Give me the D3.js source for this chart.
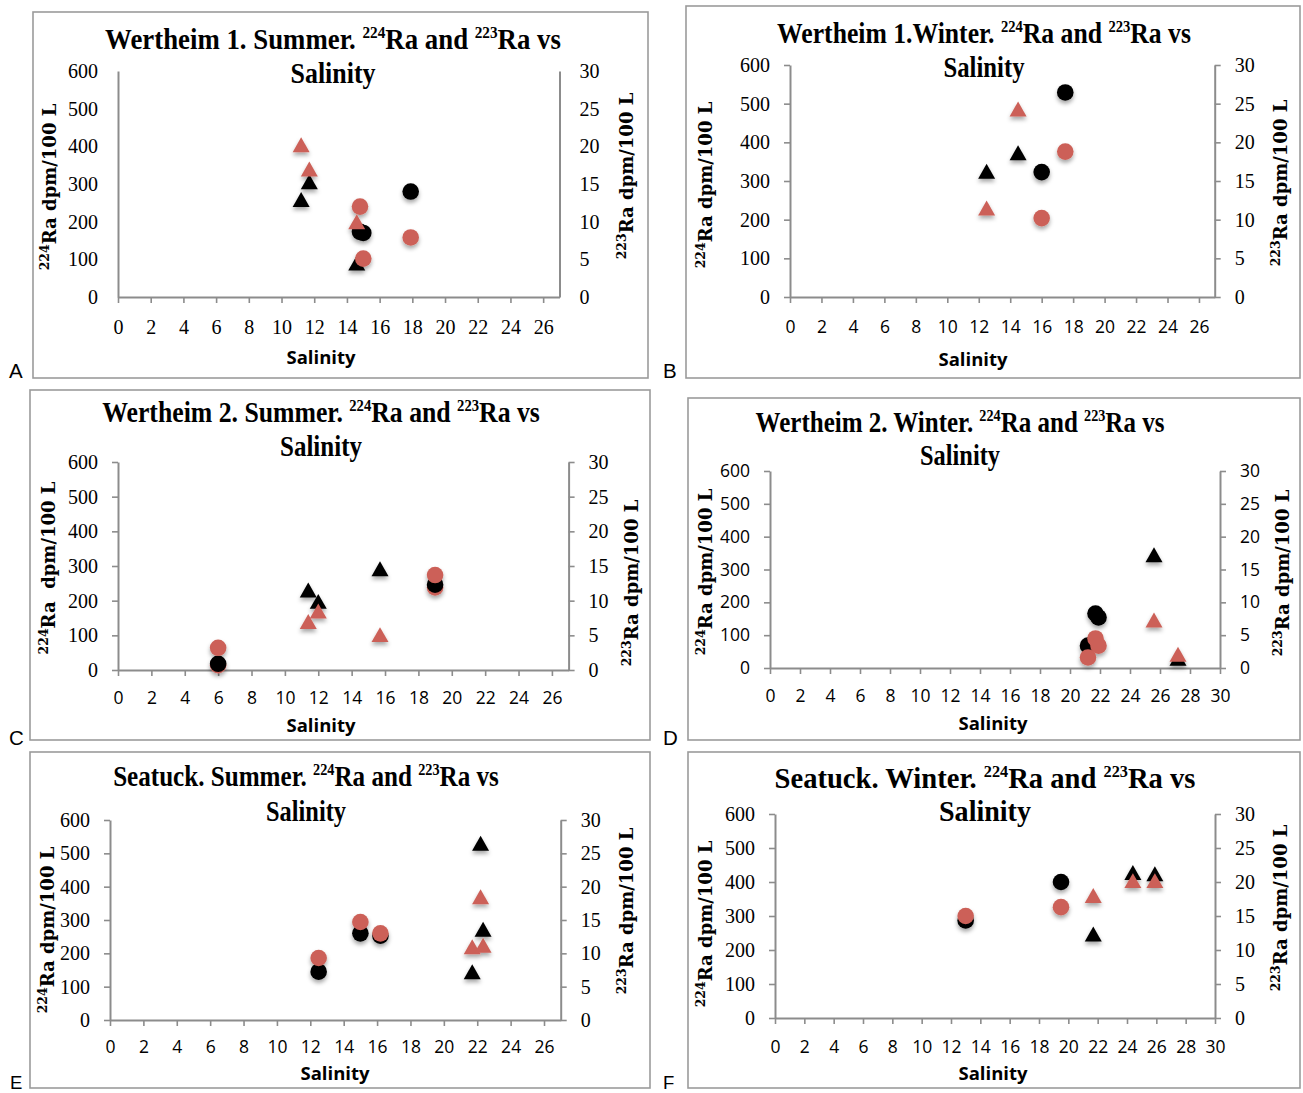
<!DOCTYPE html>
<html>
<head>
<meta charset="utf-8">
<script src="https://cdn.jsdelivr.net/npm/d3@7"></script>
<style>
  body { margin: 0; background: #fff; }
  svg { display: block; }
  text { white-space: pre; }
</style>
</head>
<body>
<svg id="fig" width="1303" height="1093"></svg>
<script>
// ---------------------------------------------------------------------------
// Data: salinity vs radium activity for three sites, summer and winter.
// Black marks = 224Ra (left axis, dpm/100 L); red marks = 223Ra (right axis).
// Circles and triangles are the two groups of stations sampled at each site.
// ---------------------------------------------------------------------------
const salinityTicks26 = [0, 2, 4, 6, 8, 10, 12, 14, 16, 18, 20, 22, 24, 26];
const salinityTicks30 = [0, 2, 4, 6, 8, 10, 12, 14, 16, 18, 20, 22, 24, 26, 28, 30];
const ra224Ticks = [0, 100, 200, 300, 400, 500, 600];
const ra223Ticks = [0, 5, 10, 15, 20, 25, 30];

const siteTitles = [
  "Wertheim 1. Summer.", "Wertheim 1.Winter.",
  "Wertheim 2. Summer.", "Wertheim 2. Winter.",
  "Seatuck. Summer.", "Seatuck. Winter."
];
const panelLetters = ["A", "B", "C", "D", "E", "F"];

// Wertheim 1, summer
const w1sCircleSal = [14.8, 15.0, 17.9];
const w1sCircleRa224 = [173, 170, 280];
const w1sCircleRa223 = [12.0, 5.1, 7.9];
const w1sTriSal = [11.2, 11.7, 14.6];
const w1sTriRa224 = [259, 306, 90];
const w1sTriRa223 = [20.2, 17.0, 10.0];

// Wertheim 1, winter
const w1wCircleSal = [16.0, 17.5];
const w1wCircleRa224 = [323, 529];
const w1wCircleRa223 = [10.2, 18.8];
const w1wTriSal = [12.5, 14.5];
const w1wTriRa224 = [325, 373];
const w1wTriRa223 = [11.5, 24.3];

// Wertheim 2, summer (replicate 223Ra samples at salinity 6 and 19)
const w2sRepSal = [6.0, 19.0];
const w2sRepRa223 = [0.7, 11.9];
const w2sCircleSal = [6.0, 19.0];
const w2sCircleRa224 = [18, 246];
const w2sCircleRa223 = [3.2, 13.7];
const w2sTriSal = [11.4, 12.0, 15.7];
const w2sTriRa224 = [231, 198, 292];
const w2sTriRa223 = [7.0, 8.5, 5.1];

// Wertheim 2, winter
const w2wCircleSal = [21.2, 21.7, 21.9];
const w2wCircleRa224 = [68, 166, 154];
const w2wCircleRa223 = [1.6, 4.5, 3.4];
const w2wTriSal = [25.6, 27.2];
const w2wTriRa224 = [345, 30];
const w2wTriRa223 = [7.3, 2.1];

// Seatuck, summer
const ssCircleSal = [12.5, 15.0, 16.2];
const ssCircleRa224 = [145, 260, 253];
const ssCircleRa223 = [9.3, 14.7, 13.0];
const ssTriSal = [21.7, 22.2, 22.35];
const ssTriRa224 = [145, 530, 272];
const ssTriRa223 = [11.0, 18.5, 11.2];

// Seatuck, winter
const swCircleSal = [13.0, 19.5];
const swCircleRa224 = [287, 400];
const swCircleRa223 = [15.0, 16.3];
const swTriSal = [21.7, 24.4, 25.9];
const swTriRa224 = [247, 428, 424];
const swTriRa223 = [18.0, 20.2, 20.2];

// Series lists in drawing order (black first, red on top)
function seriesSet(cSal, c224, c223, tSal, t224, t223) {
  return [
    { sal: cSal, val: c224, axis: "224", shape: "circle" },
    { sal: tSal, val: t224, axis: "224", shape: "triangle" },
    { sal: cSal, val: c223, axis: "223", shape: "circle" },
    { sal: tSal, val: t223, axis: "223", shape: "triangle" }
  ];
}

// ---------------------------------------------------------------------------
// Panel layout
// ---------------------------------------------------------------------------
const panels = [
  { box: [33, 12, 648, 378], left: 118, right: 559.5, top: 71, bottom: 297, xMax: 27, xTicks: salinityTicks26,
    titleX: 333, titleY: [49, 83], titleLen: [456, 85],
    xLabelOff: 30, xTitleY: 364, xTitleX: 321, yTitleL: [50, 187], yTitleR: [627, 176],
    labelPos: [9, 378], yTickMarks: false, xFont: "serif", yFont: "serif",
    series: seriesSet(w1sCircleSal, w1sCircleRa224, w1sCircleRa223, w1sTriSal, w1sTriRa224, w1sTriRa223) },
  { box: [686, 6, 1300, 378], left: 790, right: 1214.7, top: 65, bottom: 297, xMax: 27, xTicks: salinityTicks26,
    titleX: 984, titleY: [43, 77], titleLen: [414, 81],
    xLabelOff: 30, xTitleY: 366, xTitleX: 973, yTitleL: [706, 185], yTitleR: [1281, 183],
    labelPos: [663, 378], yTickMarks: true, xFont: "sans", yFont: "serif",
    series: seriesSet(w1wCircleSal, w1wCircleRa224, w1wCircleRa223, w1wTriSal, w1wTriRa224, w1wTriRa223) },
  { box: [30, 390, 650, 740], left: 118, right: 568.6, top: 462, bottom: 670, xMax: 27, xTicks: salinityTicks26,
    titleX: 321, titleY: [422, 456], titleLen: [438, 82],
    xLabelOff: 28, xTitleY: 732, xTitleX: 321, yTitleL: [49, 568], yTitleR: [632, 583], leftGap: "  ",
    labelPos: [9, 745], yTickMarks: true, xFont: "sans", yFont: "serif",
    series: [{ sal: w2sRepSal, val: w2sRepRa223, axis: "223", shape: "circle" }]
      .concat(seriesSet(w2sCircleSal, w2sCircleRa224, w2sCircleRa223, w2sTriSal, w2sTriRa224, w2sTriRa223)) },
  { box: [688, 398, 1300, 740], left: 770, right: 1220, top: 471, bottom: 668, xMax: 30, xTicks: salinityTicks30,
    titleX: 960, titleY: [432, 465], titleLen: [409, 80],
    xLabelOff: 28, xTitleY: 730, xTitleX: 993, yTitleL: [706, 572], yTitleR: [1283, 573],
    labelPos: [663, 745], yTickMarks: true, xFont: "sans", yFont: "sans",
    series: seriesSet(w2wCircleSal, w2wCircleRa224, w2wCircleRa223, w2wTriSal, w2wTriRa224, w2wTriRa223) },
  { box: [30, 752, 650, 1088], left: 110, right: 560.7, top: 820, bottom: 1020, xMax: 27, xTicks: salinityTicks26,
    titleX: 306, titleY: [786, 821], titleLen: [386, 80],
    xLabelOff: 27, xTitleY: 1080, xTitleX: 335, yTitleL: [48, 930], yTitleR: [627, 911],
    labelPos: [10, 1089], yTickMarks: true, xFont: "sans", yFont: "serif",
    series: seriesSet(ssCircleSal, ssCircleRa224, ssCircleRa223, ssTriSal, ssTriRa224, ssTriRa223) },
  { box: [688, 752, 1300, 1088], left: 775, right: 1215, top: 814, bottom: 1018, xMax: 30, xTicks: salinityTicks30,
    titleX: 985, titleY: [788, 821], titleLen: [421, 92],
    xLabelOff: 29, xTitleY: 1080, xTitleX: 993, yTitleL: [706, 924], yTitleR: [1281, 908],
    labelPos: [663, 1089], yTickMarks: true, xFont: "sans", yFont: "serif",
    series: seriesSet(swCircleSal, swCircleRa224, swCircleRa223, swTriSal, swTriRa224, swTriRa223) }
];

// ---------------------------------------------------------------------------
// Styles
// ---------------------------------------------------------------------------
const BLACK = "#000000";
const RED = "#cc6158";
const AXIS_GREY = "#8c8c8c";
const BOX_GREY = "#9b9b9b";
const FONTS = {
  serif: "'Liberation Serif', 'Times New Roman', serif",
  sans: "'Open Sans', 'Liberation Sans', sans-serif",
  titleSerif: "'Liberation Serif', 'Times New Roman', serif",
  axisTitleSerif: "'DejaVu Serif', 'Liberation Serif', serif",
  axisTitleSans: "'Open Sans', 'DejaVu Sans', sans-serif",
  letter: "'Liberation Sans', Arial, sans-serif"
};
const TITLE_SIZE = 29;
const TITLE_SUP = 16.5;

const svg = d3.select("#fig");
svg.append("rect").attr("width", 1303).attr("height", 1093).attr("fill", "#fff");

const defs = svg.append("defs");
const shadow = defs.append("filter").attr("id", "markShadow")
  .attr("x", "-60%").attr("y", "-60%").attr("width", "220%").attr("height", "240%");
shadow.append("feDropShadow").attr("dx", 0).attr("dy", 3).attr("stdDeviation", 2)
  .attr("flood-color", "#000").attr("flood-opacity", 0.35);

// Triangle centred on its bounding box (spreadsheet-style marker)
const boxTriangle = {
  draw(context, size) {
    const s = Math.sqrt(size);        // side length
    const h = s * 0.88;
    context.moveTo(0, -h / 2);
    context.lineTo(s / 2, h / 2);
    context.lineTo(-s / 2, h / 2);
    context.closePath();
  }
};
const circleSym = d3.symbol().type(d3.symbolCircle).size(Math.PI * 8.3 * 8.3);
const triangleSym = d3.symbol().type(boxTriangle).size(17 * 17);

// Appends "²²⁴Ra"-style text as tspans with raised small digits
function addRichText(textSel, parts, baseSize, supSize) {
  parts.forEach(p => {
    if (p.sup) {
      textSel.append("tspan").attr("font-size", supSize).attr("dy", -baseSize * 0.38).text(p.t);
    } else {
      const ts = textSel.append("tspan").attr("font-size", baseSize).text(p.t);
      if (p.after) ts.attr("dy", baseSize * 0.38);
    }
  });
}

// Condensed bold title: natural text is squeezed horizontally to a target width
function condensedText(g, cx, y, width, build) {
  const holder = g.append("g");
  const t = holder.append("text").attr("x", 0).attr("y", 0)
    .attr("text-anchor", "middle").attr("font-family", FONTS.titleSerif).attr("font-weight", "bold");
  build(t);
  const w = t.node().getComputedTextLength();
  const k = w > 0 ? width / w : 1;
  holder.attr("transform", `translate(${cx},${y}) scale(${k},1)`);
}

panels.forEach((p, i) => {
  const g = svg.append("g");

  // chart frame
  g.append("rect")
    .attr("x", p.box[0]).attr("y", p.box[1])
    .attr("width", p.box[2] - p.box[0]).attr("height", p.box[3] - p.box[1])
    .attr("fill", "#fff").attr("stroke", BOX_GREY).attr("stroke-width", 1.6);

  // scales
  const x = d3.scaleLinear().domain([0, p.xMax]).range([p.left, p.right]);
  const yL = d3.scaleLinear().domain([0, 600]).range([p.bottom, p.top]);
  const yR = d3.scaleLinear().domain([0, 30]).range([p.bottom, p.top]);

  const tickLen = p.yTickMarks ? 6 : 0;

  // left axis
  const gl = g.append("g").attr("transform", `translate(${p.left},0)`)
    .call(d3.axisLeft(yL).tickValues(ra224Ticks).tickSize(tickLen).tickSizeOuter(0).tickPadding(20 - tickLen));
  // right axis
  const gr = g.append("g").attr("transform", `translate(${p.right},0)`)
    .call(d3.axisRight(yR).tickValues(ra223Ticks).tickSize(tickLen).tickSizeOuter(0).tickPadding(20 - tickLen));
  // bottom axis
  const gb = g.append("g").attr("transform", `translate(0,${p.bottom})`)
    .call(d3.axisBottom(x).tickValues(p.xTicks).tickSize(6).tickSizeOuter(0));

  [gl, gr, gb].forEach(ax => {
    ax.select(".domain").attr("stroke", AXIS_GREY).attr("stroke-width", 2);
    ax.selectAll(".tick line").attr("stroke", AXIS_GREY).attr("stroke-width", 1.6);
    ax.selectAll("text").attr("fill", "#000");
  });
  [gl, gr].forEach(ax => ax.selectAll("text")
    .attr("font-family", FONTS[p.yFont]).attr("font-size", p.yFont === "serif" ? 20 : 17.5));
  gb.selectAll("text")
    .attr("font-family", FONTS[p.xFont]).attr("font-size", p.xFont === "serif" ? 20 : 17.5)
    .attr("y", p.xLabelOff).attr("dy", "0.35em");

  // title (two lines)
  condensedText(g, p.titleX, p.titleY[0], p.titleLen[0], t => addRichText(t, [
    { t: siteTitles[i] + " " }, { t: "224", sup: true }, { t: "Ra and ", after: true },
    { t: "223", sup: true }, { t: "Ra vs", after: true }
  ], TITLE_SIZE, TITLE_SUP));
  condensedText(g, p.titleX, p.titleY[1], p.titleLen[1], t =>
    t.attr("font-size", TITLE_SIZE).text("Salinity"));

  // x-axis title
  g.append("text").attr("x", p.xTitleX).attr("y", p.xTitleY)
    .attr("text-anchor", "middle").attr("font-family", FONTS.axisTitleSans).attr("font-weight", "bold")
    .attr("font-size", 18.5).text("Salinity");

  // y-axis titles (rotated)
  const yl = g.append("text")
    .attr("transform", `translate(${p.yTitleL[0] + 6},${p.yTitleL[1]}) rotate(-90)`)
    .attr("text-anchor", "middle").attr("font-family", FONTS.axisTitleSerif).attr("font-weight", "bold");
  addRichText(yl, [{ t: "224", sup: true }, { t: "Ra" + (p.leftGap || " ") + "dpm/100 L", after: true }], 18, 12.5);
  const yr = g.append("text")
    .attr("transform", `translate(${p.yTitleR[0] + 6},${p.yTitleR[1]}) rotate(-90)`)
    .attr("text-anchor", "middle").attr("font-family", FONTS.axisTitleSerif).attr("font-weight", "bold");
  addRichText(yr, [{ t: "223", sup: true }, { t: "Ra dpm/100 L", after: true }], 18, 12.5);

  // panel letter
  g.append("text").attr("x", p.labelPos[0]).attr("y", p.labelPos[1])
    .attr("font-family", FONTS.letter).attr("font-size", i >= 4 ? 18.5 : 20.5).attr("fill", "#000")
    .text(panelLetters[i]);

  // markers
  const markG = g.append("g").attr("filter", "url(#markShadow)");
  p.series.forEach(s => {
    const yScale = s.axis === "224" ? yL : yR;
    const color = s.axis === "224" ? BLACK : RED;
    const sym = s.shape === "circle" ? circleSym : triangleSym;
    markG.selectAll(null)
      .data(s.sal.map((v, k) => ({ sal: v, val: s.val[k] })))
      .join("path")
      .attr("transform", d => `translate(${x(d.sal)},${yScale(d.val)})`)
      .attr("d", sym)
      .attr("fill", color);
  });
});
</script>
</body>
</html>
